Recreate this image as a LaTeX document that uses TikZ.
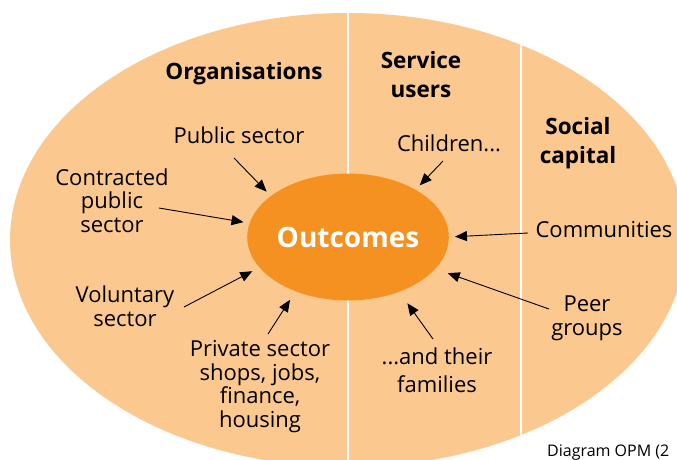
\documentclass[tikz,border=0pt]{standalone}
\usepackage{fontspec}
\setmainfont{Open Sans}
\usepackage{xcolor}
\usetikzlibrary{arrows.meta,shapes.geometric}
\definecolor{peach}{RGB}{251,200,143}
\definecolor{outorange}{RGB}{245,145,32}

\begin{document}
\begin{tikzpicture}[x=1pt,y=-1pt]
	\tikzstyle{lbl} = [align=center, anchor=base, inner sep=0pt, font=\fontsize{22}{23.5}\selectfont]
	\tikzstyle{head} = [lbl, font=\fontsize{22.5}{28.5}\selectfont\bfseries]
	\tikzstyle{edge} = [draw=black, line width=0.9pt, -{Triangle[length=12pt,width=10pt]}, shorten >=6pt]
	\useasboundingbox (0,0) rectangle (677,460);
	\clip (0,0) rectangle (677,460);
	\fill[peach] (348,240) ellipse [x radius=338pt, y radius=227pt];
	\begin{scope}
		\clip (348,240) ellipse [x radius=338pt, y radius=227pt];
		\draw[white, line width=2pt] (348,0) -- (348,460);
		\draw[white, line width=2pt] (521,0) -- (521,460);
	\end{scope}
		\node[ellipse, fill=outorange, text=white, inner sep=0pt, minimum width=198pt, minimum height=127pt,
			font=\fontsize{28}{30}\selectfont\bfseries] (outc) at (348,237) {Outcomes};
		\node[head] (org) at (244,80) {Organisations};
		\node[head] (serv) at (421,97) {Service\\users};
		\node[head] (soc) at (578,163) {Social\\capital};
		\node[lbl] (pub) at (239,143) {Public sector};
		\node[lbl] (con) at (112,232) {Contracted\\public\\sector};
		\node[lbl] (vol) at (125,326) {Voluntary\\sector};
		\node[lbl] (pri) at (260,427) {Private sector\\shops, jobs,\\finance,\\housing};
		\node[lbl] (chi) at (449,151) {Children...};
		\node[lbl] (com) at (604,237) {Communities};
		\node[lbl] (pee) at (587,335) {Peer\\groups};
		\node[lbl, font=\fontsize{22}{28}\selectfont] (fam) at (437,392) {...and their\\families};
		\node[lbl, anchor=base west, font=\fontsize{16}{18}\selectfont] (src) at (547,456) {Diagram OPM (2};
		\coordinate (pubT) at (234,158);
		\coordinate (conT) at (159,208);
		\coordinate (volT) at (184,307);
		\coordinate (priT) at (268,334);
		\coordinate (chiT) at (443,161);
		\coordinate (comT) at (528,233);
		\coordinate (peeT) at (549,309);
		\coordinate (famT) at (433,339);
	\draw[edge] (pubT) -- (outc.152);
	\draw[edge] (conT) -- (outc.172);
	\draw[edge, shorten >=8pt] (volT) -- (outc.199);
	\draw[edge, shorten >=10pt] (priT) -- (outc.226);
	\draw[edge] (chiT) -- (outc.35);
	\draw[edge] (comT) -- (outc.east);
	\draw[edge, shorten >=13pt] (peeT) -- (outc.340);
	\draw[edge, shorten >=14pt] (famT) -- (outc.313);
\end{tikzpicture}
\end{document}
